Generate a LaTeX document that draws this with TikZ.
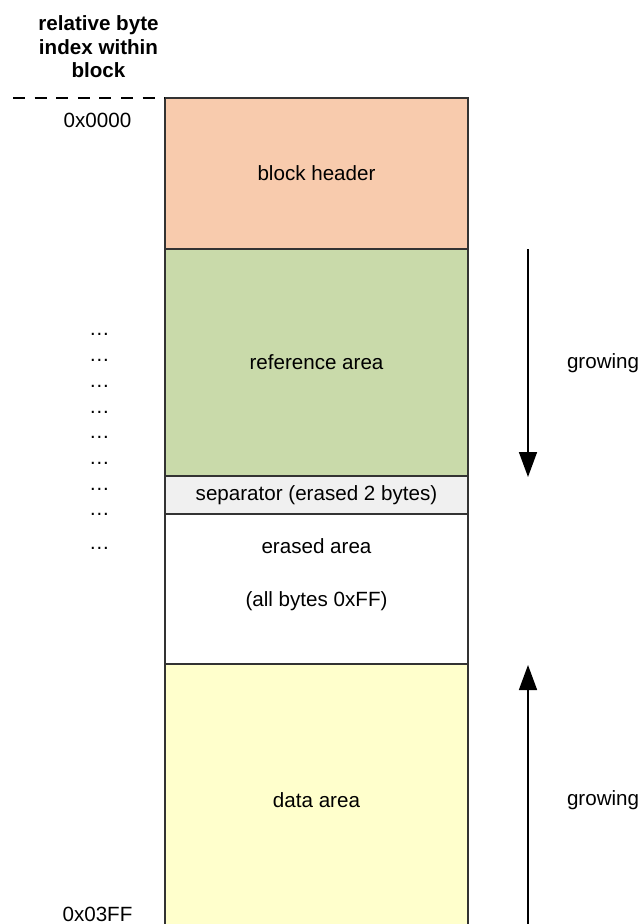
\documentclass[tikz,border=0pt]{standalone}
\usepackage{fontspec}
\setmainfont{Liberation Sans}
\usetikzlibrary{arrows.meta,positioning}

\definecolor{headerfill}{HTML}{F8CBAD}
\definecolor{reffill}{HTML}{C9DAAA}
\definecolor{sepfill}{HTML}{F0F0F0}
\definecolor{datafill}{HTML}{FFFFCC}

\begin{document}
\begin{tikzpicture}[x=1pt,y=-1pt,
  every node/.style={font=\fontsize{20.6}{23.5}\selectfont,inner sep=0pt,outer sep=0pt},
  area/.style={draw=black!80,line width=1.2pt,minimum width=303pt},
  growarrow/.style={line width=1.6pt,-{Triangle[length=25pt,width=18pt]}}]
  \clip (0,0) rectangle (642,924);

  % 1. Define the block areas
  \node[area,fill=headerfill,minimum height=151pt,anchor=north west] (header) at (165,98) {block header};
  \node[area,fill=reffill,minimum height=227pt,below=0pt of header] (refarea) {reference area};
  \node[area,fill=sepfill,minimum height=38pt,below=0pt of refarea] (sep) {separator (erased 2 bytes)};
  \node[area,minimum height=150pt,below=0pt of sep] (erased) {};
  \node[area,fill=datafill,minimum height=272pt,below=0pt of erased] (data) {data area};

  % 2. Texts of the erased area
  \node (erasedtxt) at (316.5,546) {erased area};
  \node (allff) at (316.5,601) {(all bytes 0xFF)};

  % 3. Index column
  \node[font=\fontsize{20.6}{23.5}\selectfont\bfseries,align=center] (title) at (98.5,47)
    {relative byte\\index within\\block};
  \coordinate (dashL) at (13,98);
  \draw[line width=1.3pt,dash pattern=on 12pt off 9.6pt] (dashL) -- (header.north west);
  \node (first) at (97.5,120) {0x0000};
  \node (last) at (97.5,914) {0x03FF};
  \foreach \y in {334,360,386,412,437,463,489,514,548}
    \node at (99.5,\y) {…};

  % 4. Growing arrows
  \coordinate (dA) at (528,249);
  \coordinate (dB) at (528,477);
  \coordinate (uA) at (528,930);
  \coordinate (uB) at (528,665);
  \draw[growarrow] (dA) -- (dB);
  \draw[growarrow] (uA) -- (uB);
  \node[anchor=west] (growdown) at (567,363) {growing};
  \node[anchor=west] (growup) at (567,800) {growing};
\end{tikzpicture}
\end{document}
